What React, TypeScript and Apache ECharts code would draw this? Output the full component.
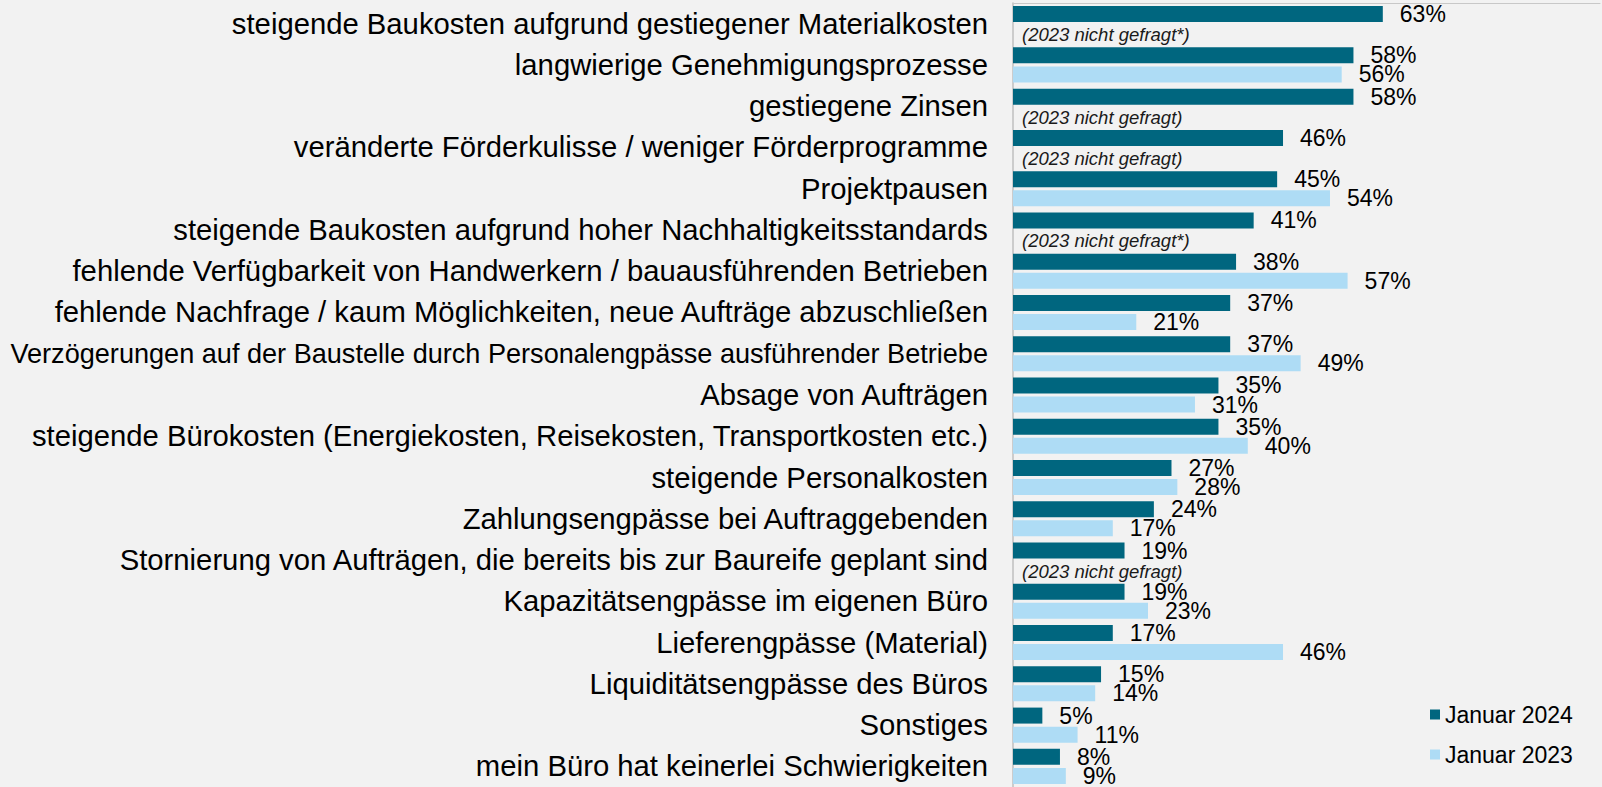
import React, { useEffect, useRef } from "react";
import * as echarts from "echarts";

const categories: string[] = [
  "steigende Baukosten aufgrund gestiegener Materialkosten",
  "langwierige Genehmigungsprozesse",
  "gestiegene Zinsen",
  "veränderte Förderkulisse / weniger Förderprogramme",
  "Projektpausen",
  "steigende Baukosten aufgrund hoher Nachhaltigkeitsstandards",
  "fehlende Verfügbarkeit von Handwerkern / bauausführenden Betrieben",
  "fehlende Nachfrage / kaum Möglichkeiten, neue Aufträge abzuschließen",
  "Verzögerungen auf der Baustelle durch Personalengpässe ausführender Betriebe",
  "Absage von Aufträgen",
  "steigende Bürokosten (Energiekosten, Reisekosten, Transportkosten etc.)",
  "steigende Personalkosten",
  "Zahlungsengpässe bei Auftraggebenden",
  "Stornierung von Aufträgen, die bereits bis zur Baureife geplant sind",
  "Kapazitätsengpässe im eigenen Büro",
  "Lieferengpässe (Material)",
  "Liquiditätsengpässe des Büros",
  "Sonstiges",
  "mein Büro hat keinerlei Schwierigkeiten",
];

const jan2024: number[] = [63, 58, 58, 46, 45, 41, 38, 37, 37, 35, 35, 27, 24, 19, 19, 17, 15, 5, 8];
const jan2023: (number | null)[] = [null, 56, null, null, 54, null, 57, 21, 49, 31, 40, 28, 17, null, 23, 46, 14, 11, 9];
const notAskedNotes: string[] = [
  "(2023 nicht gefragt*)", "", "(2023 nicht gefragt)", "(2023 nicht gefragt)", "", "(2023 nicht gefragt*)",
  "", "", "", "", "", "", "", "(2023 nicht gefragt)", "", "", "", "", "",
];
const seriesNames: string[] = ["Januar 2024", "Januar 2023"];

const FONT = "'Liberation Sans', Arial, Helvetica, sans-serif";
const DARK = "#00667f";
const LIGHT = "#aedcf5";

export default function App() {
  const ref = useRef<HTMLDivElement>(null);
  useEffect(() => {
    if (!ref.current) return;
    document.body.style.margin = "0";
    document.body.style.background = "#f2f2f2";
    const chart = echarts.init(ref.current, undefined, { renderer: "svg" });

    const lightData = jan2023.map((v, i) =>
      v == null
        ? {
            value: 0,
            label: {
              show: true,
              position: "right",
              distance: 9,
              formatter: notAskedNotes[i],
              fontStyle: "italic",
              fontSize: 18.5,
              color: "#1a1a1a",
              offset: [0, 1.5],
            },
          }
        : v
    );

    chart.setOption({
      animation: false,
      backgroundColor: "#f2f2f2",
      textStyle: { fontFamily: FONT },
      grid: { left: 1013, width: 587, top: 3, height: 786, containLabel: false },
      legend: {
        orient: "vertical",
        left: 1430,
        top: 703,
        padding: 0,
        itemGap: 17,
        itemWidth: 10,
        itemHeight: 10,
        icon: "rect",
        textStyle: { fontSize: 23, color: "#000", fontFamily: FONT },
        data: seriesNames,
      },
      xAxis: {
        type: "value",
        position: "top",
        min: 0,
        max: 100,
        axisLine: { show: true, lineStyle: { color: "#c8c8c8", width: 1 } },
        axisTick: { show: false },
        axisLabel: { show: false },
        splitLine: { show: false },
      },
      yAxis: {
        type: "category",
        inverse: true,
        data: categories,
        axisLine: { show: true, lineStyle: { color: "#bfbfbf", width: 1.5 } },
        axisTick: { show: false },
        axisLabel: {
          fontSize: 29.25,
          color: "#000",
          margin: 25,
          fontFamily: FONT,
          formatter: (v: string) => (v.startsWith("Verzögerungen") ? `{c|${v}}` : v),
          rich: { c: { fontSize: 27.1, color: "#000", fontFamily: FONT } },
        },
      },
      series: [
        {
          name: seriesNames[0],
          type: "bar",
          data: jan2024,
          barWidth: 16,
          barGap: "19%",
          itemStyle: { color: DARK },
          label: {
            show: true,
            position: "right",
            distance: 17,
            formatter: "{c}%",
            fontSize: 23,
            color: "#000",
            fontFamily: FONT,
          },
        },
        {
          name: seriesNames[1],
          type: "bar",
          data: lightData,
          barWidth: 16,
          barGap: "19%",
          itemStyle: { color: LIGHT },
          label: {
            show: true,
            position: "right",
            distance: 17,
            formatter: "{c}%",
            fontSize: 23,
            color: "#000",
            fontFamily: FONT,
          },
        },
      ],
    });
    return () => chart.dispose();
  }, []);
  return (
    <div
      ref={ref}
      style={{ position: "fixed", left: 0, top: 0, width: 1602, height: 787, background: "#f2f2f2" }}
    />
  );
}
